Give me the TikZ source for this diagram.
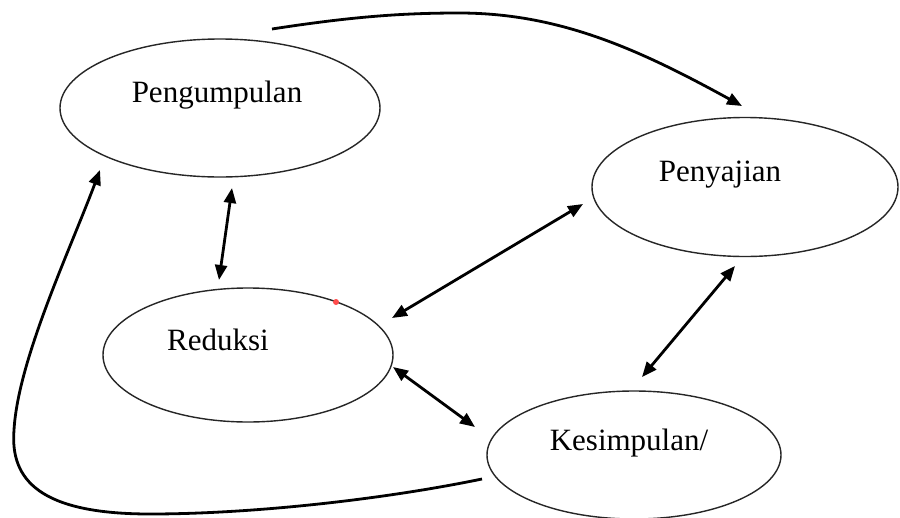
\documentclass[tikz,border=0pt]{standalone}
\usepackage{fontspec}
\setmainfont{Liberation Serif}
\usetikzlibrary{arrows.meta,shapes.geometric}
\begin{document}
\begin{tikzpicture}[x=1pt,y=-1pt,
  oval/.style={draw=black!85,line width=1.4pt,ellipse,inner sep=0pt},
  lbl/.style={anchor=base,inner sep=0pt,font=\fontsize{31}{36}\selectfont},
  conn/.style={line width=2.8pt,black},
  tip/.style={-{Triangle[length=15pt,width=12pt]}},
  dtip/.style={{Triangle[length=15pt,width=12pt]}-{Triangle[length=15pt,width=12pt]}}]
\useasboundingbox (0,0) rectangle (900,517);
\fill[white] (0,0) rectangle (900,517);
% ellipses
\node[oval,minimum width=320pt,minimum height=138pt] (peng) at (220,108) {};
\node[oval,minimum width=306pt,minimum height=139pt] (peny) at (745,187) {};
\node[oval,minimum width=290pt,minimum height=134pt] (red) at (248,355) {};
\node[oval,minimum width=294pt,minimum height=128pt] (kes) at (634,455) {};
% labels
\node[lbl] (tpeng) at (217,102) {Pengumpulan};
\node[lbl] (tpeny) at (720,181) {Penyajian};
\node[lbl] (tred) at (218,350) {Reduksi};
\node[lbl] (tkes) at (629,450) {Kesimpulan/};
% small red mark
\fill[red!70!white] (336,302) circle (3pt);
% connector ends
\coordinate (pengB) at (232,188);
\coordinate (redT) at (219,280);
\coordinate (redNE) at (392,318);
\coordinate (penyW) at (583,204);
\coordinate (redE) at (393,367);
\coordinate (kesNW) at (475,427);
\coordinate (penyS) at (735,266);
\coordinate (kesN) at (642,377);
\coordinate (topS) at (272,29);
\coordinate (topM) at (459,13);
\coordinate (penyN) at (742,106);
\coordinate (kesW) at (482,479);
\coordinate (botM) at (150,514);
\coordinate (leftM) at (14,430);
\coordinate (pengSW) at (100,170);
% connectors
\draw[conn,dtip] (pengB) -- (redT);
\draw[conn,dtip] (redNE) -- (penyW);
\draw[conn,dtip] (redE) -- (kesNW);
\draw[conn,dtip] (penyS) -- (kesN);
\draw[conn,tip] (topS) .. controls (350,17) and (400,13) .. (topM)
  .. controls (560,13) and (640,50) .. (penyN);
\draw[conn,tip] (kesW) .. controls (380,500) and (250,514) .. (botM)
  .. controls (40,514) and (10,480) .. (leftM)
  .. controls (18,360) and (70,250) .. (pengSW);
\end{tikzpicture}
\end{document}
